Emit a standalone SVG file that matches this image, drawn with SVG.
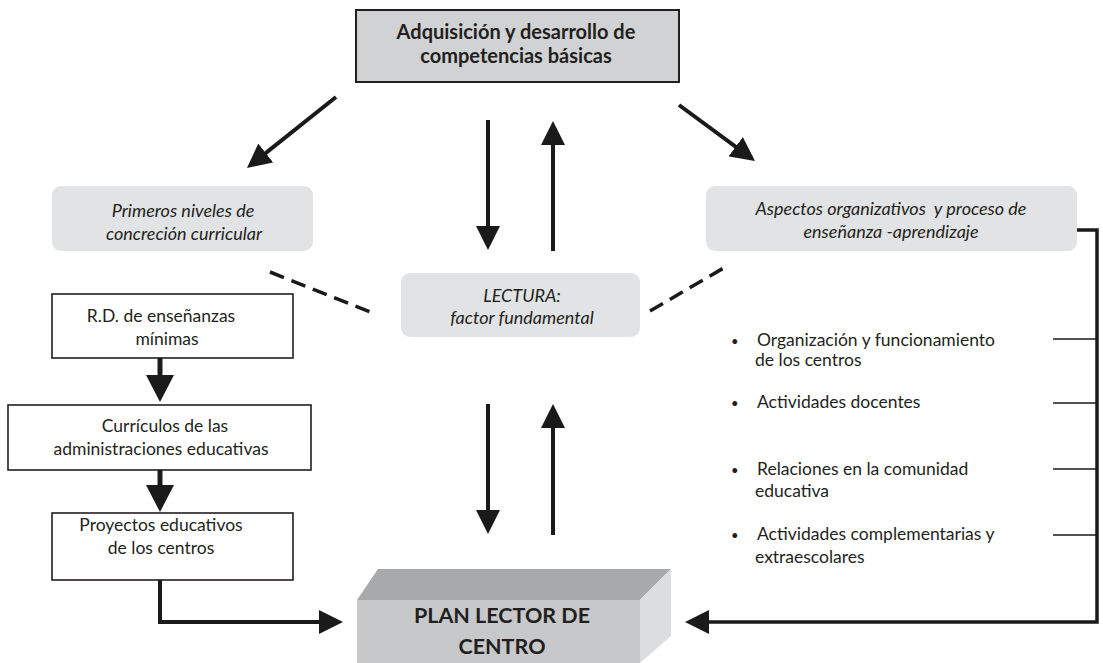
<svg xmlns="http://www.w3.org/2000/svg" width="1103" height="663" viewBox="0 0 1103 663">
<defs>
<marker id="ah" viewBox="0 0 24 24" markerWidth="24" markerHeight="24" refX="20" refY="12" markerUnits="userSpaceOnUse" orient="auto"><path d="M0,0 L24,12 L0,24 Z" fill="#1a1a1a"/></marker>
<marker id="ah2" viewBox="0 0 27 28" markerWidth="27" markerHeight="28" refX="22" refY="14" markerUnits="userSpaceOnUse" orient="auto"><path d="M0,0 L27,14 L0,28 Z" fill="#1a1a1a"/></marker>
<style>
text{font-family:Lato,"Open Sans","DejaVu Sans",sans-serif;fill:#231f20}
.b{font-weight:bold;font-size:20px}
.i{font-style:italic;font-size:18px}
.r{font-size:17.5px}
.c{text-anchor:middle}
.round{fill:#e2e3e4}
.wbox{fill:#fff;stroke:#231f20;stroke-width:1.6}
.arr{fill:none;stroke:#1a1a1a;stroke-width:4;marker-end:url(#ah)}
.arr2{fill:none;stroke:#1a1a1a;stroke-width:5;marker-end:url(#ah2)}
.dash{fill:none;stroke:#1a1a1a;stroke-width:3.5;stroke-dasharray:15 8}
.tick{fill:none;stroke:#1a1a1a;stroke-width:1.5}
</style>
</defs>
<rect width="1103" height="663" fill="#fff"/>
<g id="top">
<rect x="356" y="10" width="323" height="72" fill="#d1d2d4" stroke="#231f20" stroke-width="2"/>
<text class="b c" x="516" y="39">Adquisición y desarrollo de</text>
<text class="b c" x="516" y="63">competencias básicas</text>
</g>
<g id="primeros">
<rect class="round" x="52" y="186" width="261" height="65" rx="9"/>
<text class="i c" x="183" y="217">Primeros niveles de</text>
<text class="i c" x="184" y="240">concreción curricular</text>
</g>
<g id="aspectos">
<rect class="round" x="706" y="186" width="371" height="65" rx="9"/>
<text class="i c" x="891" y="215" xml:space="preserve">Aspectos organizativos  y proceso de</text>
<text class="i c" x="891" y="238">enseñanza -aprendizaje</text>
</g>
<g id="lectura">
<rect class="round" x="401" y="273" width="239" height="64" rx="9"/>
<text class="i c" x="522" y="302">LECTURA:</text>
<text class="i c" x="522" y="324">factor fundamental</text>
</g>
<g id="rd">
<rect class="wbox" x="52" y="294" width="241" height="64"/>
<text class="r c" x="161" y="322">R.D. de enseñanzas</text>
<text class="r c" x="167" y="345">mínimas</text>
</g>
<g id="curriculos">
<rect class="wbox" x="8" y="405" width="303" height="65"/>
<text class="r c" x="165" y="432">Currículos de las</text>
<text class="r c" x="161" y="455">administraciones educativas</text>
</g>
<g id="proyectos">
<rect class="wbox" x="52" y="513" width="241" height="67"/>
<text class="r c" x="161" y="531">Proyectos educativos</text>
<text class="r c" x="161" y="554">de los centros</text>
</g>
<g id="bullets">
<text class="r" x="731" y="346" style="font-size:13px">•</text>
<text class="r" x="757" y="346">Organización y funcionamiento</text>
<text class="r" x="755" y="366">de los centros</text>
<text class="r" x="731" y="408" style="font-size:13px">•</text>
<text class="r" x="757" y="408">Actividades docentes</text>
<text class="r" x="731" y="475" style="font-size:13px">•</text>
<text class="r" x="757" y="475">Relaciones en la comunidad</text>
<text class="r" x="755" y="497">educativa</text>
<text class="r" x="731" y="540" style="font-size:13px">•</text>
<text class="r" x="757" y="540">Actividades complementarias y</text>
<text class="r" x="755" y="563">extraescolares</text>
</g>
<g id="plan">
<polygon points="357,600 378,569 671,569 640,600" fill="#a8a9ab"/>
<rect x="357" y="600" width="283" height="63" fill="#c7c8ca"/>
<polygon points="640,600 671,569 671,636 640,663" fill="#dcdddf"/>
<text class="b c" x="502" y="623" style="font-size:21.5px">PLAN LECTOR DE</text>
<text class="b c" x="502" y="654" style="font-size:21.5px">CENTRO</text>
</g>
<g id="connectors">
<line class="arr" x1="336" y1="97" x2="250.1" y2="165.5"/>
<line class="arr" x1="679" y1="105" x2="751.8" y2="158.6"/>
<line class="arr" x1="488" y1="120" x2="488" y2="246"/>
<line class="arr" x1="553" y1="251" x2="553" y2="125"/>
<line class="arr" x1="488" y1="404" x2="488" y2="530"/>
<line class="arr" x1="553" y1="535" x2="553" y2="408"/>
<line class="dash" x1="270" y1="272" x2="373" y2="313"/>
<line class="dash" x1="650" y1="311" x2="727" y2="266"/>
<line class="arr2" x1="160" y1="358" x2="160" y2="397"/>
<line class="arr2" x1="160" y1="470" x2="160" y2="507"/>
<path class="arr" d="M160,580 V622 H339"/>
<path class="arr" style="stroke-width:3.5" d="M1077,230 H1097 V622 H689"/>
<line class="tick" x1="1053" y1="339" x2="1097" y2="339"/>
<line class="tick" x1="1053" y1="403" x2="1097" y2="403"/>
<line class="tick" x1="1053" y1="469" x2="1097" y2="469"/>
<line class="tick" x1="1053" y1="535" x2="1097" y2="535"/>
</g>
</svg>
